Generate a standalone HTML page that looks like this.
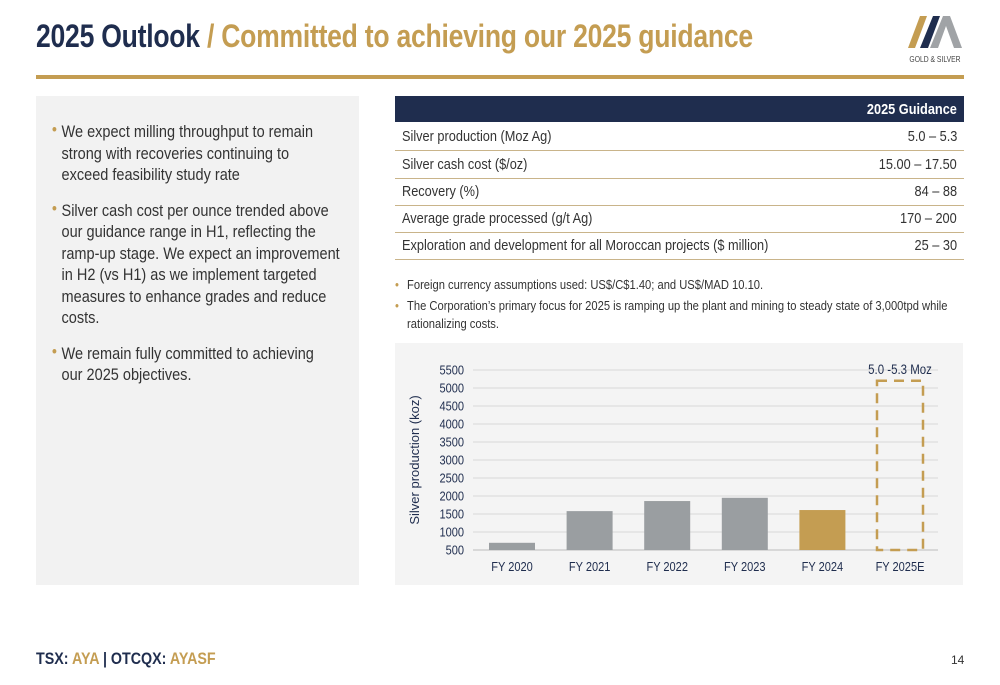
<!DOCTYPE html>
<html><head><meta charset="utf-8"><style>
body{margin:0;width:1000px;height:685px;background:#fff;position:relative;overflow:hidden;font-family:"Liberation Sans",sans-serif;color:#222}
.abs{position:absolute}
.c{transform-origin:0 0;white-space:nowrap}
#title{left:36px;top:18px;font-size:32px;font-weight:bold;color:#1f2d4e;transform:scaleX(.83);letter-spacing:-0.3px}
#title span{color:#c49d52}
#rule{left:36px;top:75px;width:928px;height:4px;background:#c49d52}
#left{left:36px;top:96px;width:323px;height:489px;background:#f2f2f2}
ul{margin:0;padding:0;list-style:none;width:335px;transform:scaleX(.88);transform-origin:0 0}
li{position:relative;padding-left:29px;font-size:16.5px;line-height:21.5px;color:#333;margin-bottom:14px;white-space:nowrap}
li::before{content:"•";color:#c49d52;position:absolute;left:18px;top:-2px}
.row{position:absolute;left:395px;width:569px;height:27px;border-bottom:1px solid #c9b48a;font-size:15px;color:#333}
.row .l{position:absolute;left:7px;top:5px;transform:scaleX(.85);transform-origin:0 0;white-space:nowrap}
.row .r{position:absolute;right:7px;top:5px;transform:scaleX(.85);transform-origin:100% 0;white-space:nowrap}
.note{font-size:13px;color:#333;line-height:18px;transform:scaleX(.86);transform-origin:0 0;white-space:nowrap}
.note b{color:#c49d52;font-weight:normal}
</style></head><body>
<div id="title" class="abs c">2025 Outlook <span>/ Committed to achieving our 2025 guidance</span></div>
<svg class="abs" style="left:900px;top:12px" width="70" height="55">
<polygon points="8,36 20,4 27,4 15,36" fill="#c49d52"/><polygon points="20,36 33,4 40,4 28,36" fill="#1f2d4e"/>
<polygon points="30,36 43,4 50,4 62,36 54,36 46,14 38,36" fill="#a0a3a6"/>
<text x="35" y="50" font-size="8" text-anchor="middle" fill="#444" font-family="Liberation Sans, sans-serif" transform="translate(35 0) scale(.85 1) translate(-35 0)">GOLD &amp; SILVER</text></svg>
<div id="rule" class="abs"></div>
<div id="left" class="abs">
<ul style="margin-top:26px">
<li>We expect milling throughput to remain<br>strong with recoveries continuing to<br>exceed feasibility study rate</li>
<li>Silver cash cost per ounce trended above<br>our guidance range in H1, reflecting the<br>ramp-up stage. We expect an improvement<br>in H2 (vs H1) as we implement targeted<br>measures to enhance grades and reduce<br>costs.</li>
<li>We remain fully committed to achieving<br>our 2025 objectives.</li>
</ul></div>
<div class="abs" style="left:395px;top:96px;width:569px;height:26px;background:#1f2d4e">
<div style="position:absolute;right:7px;top:5px;color:#fff;font-weight:bold;font-size:15px;transform:scaleX(.85);transform-origin:100% 0;white-space:nowrap">2025 Guidance</div></div>
<div class="row" style="top:123px"><span class="l">Silver production (Moz Ag)</span><span class="r">5.0 – 5.3</span></div>
<div class="row" style="top:151px"><span class="l">Silver cash cost ($/oz)</span><span class="r">15.00 – 17.50</span></div>
<div class="row" style="top:178px"><span class="l">Recovery (%)</span><span class="r">84 – 88</span></div>
<div class="row" style="top:205px"><span class="l">Average grade processed (g/t Ag)</span><span class="r">170 – 200</span></div>
<div class="row" style="top:232px"><span class="l">Exploration and development for all Moroccan projects ($ million)</span><span class="r">25 – 30</span></div>
<div class="abs note" style="left:395px;top:276px">
<div style="padding-left:14px;position:relative"><b style="position:absolute;left:0">•</b>Foreign currency assumptions used: US$/C$1.40; and US$/MAD 10.10.</div>
<div style="padding-left:14px;position:relative;margin-top:3px"><b style="position:absolute;left:0">•</b>The Corporation’s primary focus for 2025 is ramping up the plant and mining to steady state of 3,000tpd while<br>rationalizing costs.</div>
</div>
<div class="abs" style="left:395px;top:343px;width:568px;height:242px;background:#f4f4f4"></div>
<svg id="chart" class="abs" style="left:0;top:0" width="1000" height="685"></svg>
<div class="abs c" style="left:36px;top:649px;font-size:17px;font-weight:bold;color:#1f2d4e;transform:scaleX(.84)">TSX: <span style="color:#c49d52">AYA</span> | OTCQX: <span style="color:#c49d52">AYASF</span></div>
<div class="abs" style="left:951px;top:653px;font-size:12px;color:#333">14</div>
<script>
const categories=["FY 2020","FY 2021","FY 2022","FY 2023","FY 2024","FY 2025E"];
const values=[700,1580,1860,1950,1610,null];
const guidance=[5200];
const ticks=[500,1000,1500,2000,2500,3000,3500,4000,4500,5000,5500];
const svg=document.getElementById('chart');const NS='http://www.w3.org/2000/svg';
const y0=550,y1=370,vmin=500,vmax=5500;
const Y=v=>y0-(v-vmin)/(vmax-vmin)*(y0-y1);
const X=i=>512+i*77.6;const bw=46;
const F='Liberation Sans, sans-serif';
function mk(t,a,txt){const e=document.createElementNS(NS,t);for(const k in a)e.setAttribute(k,a[k]);if(txt!=null)e.textContent=txt;svg.appendChild(e);return e;}
function cond(x,y){return 'translate('+x+' '+y+') scale(.85 1)';}
ticks.forEach(t=>{
 const l=mk('line',{x1:473,x2:938,y1:Y(t),y2:Y(t),stroke:t===500?'#bbb':'#d9d9d9','stroke-width':1});
 
 
 const tx=mk('text',{x:0,y:0,transform:cond(464,Y(t)+4.5),'text-anchor':'end','font-size':13,fill:'#1f2d4e','font-family':F},t);
 
 
});
const yt=mk('text',{x:0,y:0,transform:'translate(419 460) rotate(-90)','text-anchor':'middle','font-size':13,fill:'#1f2d4e','font-family':F},'Silver production (koz)');


categories.forEach((c,i)=>{
 const tx=mk('text',{x:0,y:0,transform:cond(X(i),571),'text-anchor':'middle','font-size':13,fill:'#1f2d4e','font-family':F},c);
 
 
 if(values[i]!=null){
  const r=mk('rect',{x:X(i)-bw/2,y:Y(values[i]),width:bw,height:y0-Y(values[i]),fill:i===4?'#c49d52':'#9a9ea1'});
  
  
 }
});
const gi=5;
const box=mk('rect',{x:X(gi)-bw/2,y:Y(guidance[0]),width:bw,height:y0-Y(guidance[0]),fill:'none',stroke:'#c49d52','stroke-width':2.5,'stroke-dasharray':'10,7'});


const gl=mk('text',{x:0,y:0,transform:cond(X(gi),Y(guidance[0])-7),'text-anchor':'middle','font-size':13.5,fill:'#1f2d4e','font-family':F},'5.0 -5.3 Moz');


</script>
</body></html>
